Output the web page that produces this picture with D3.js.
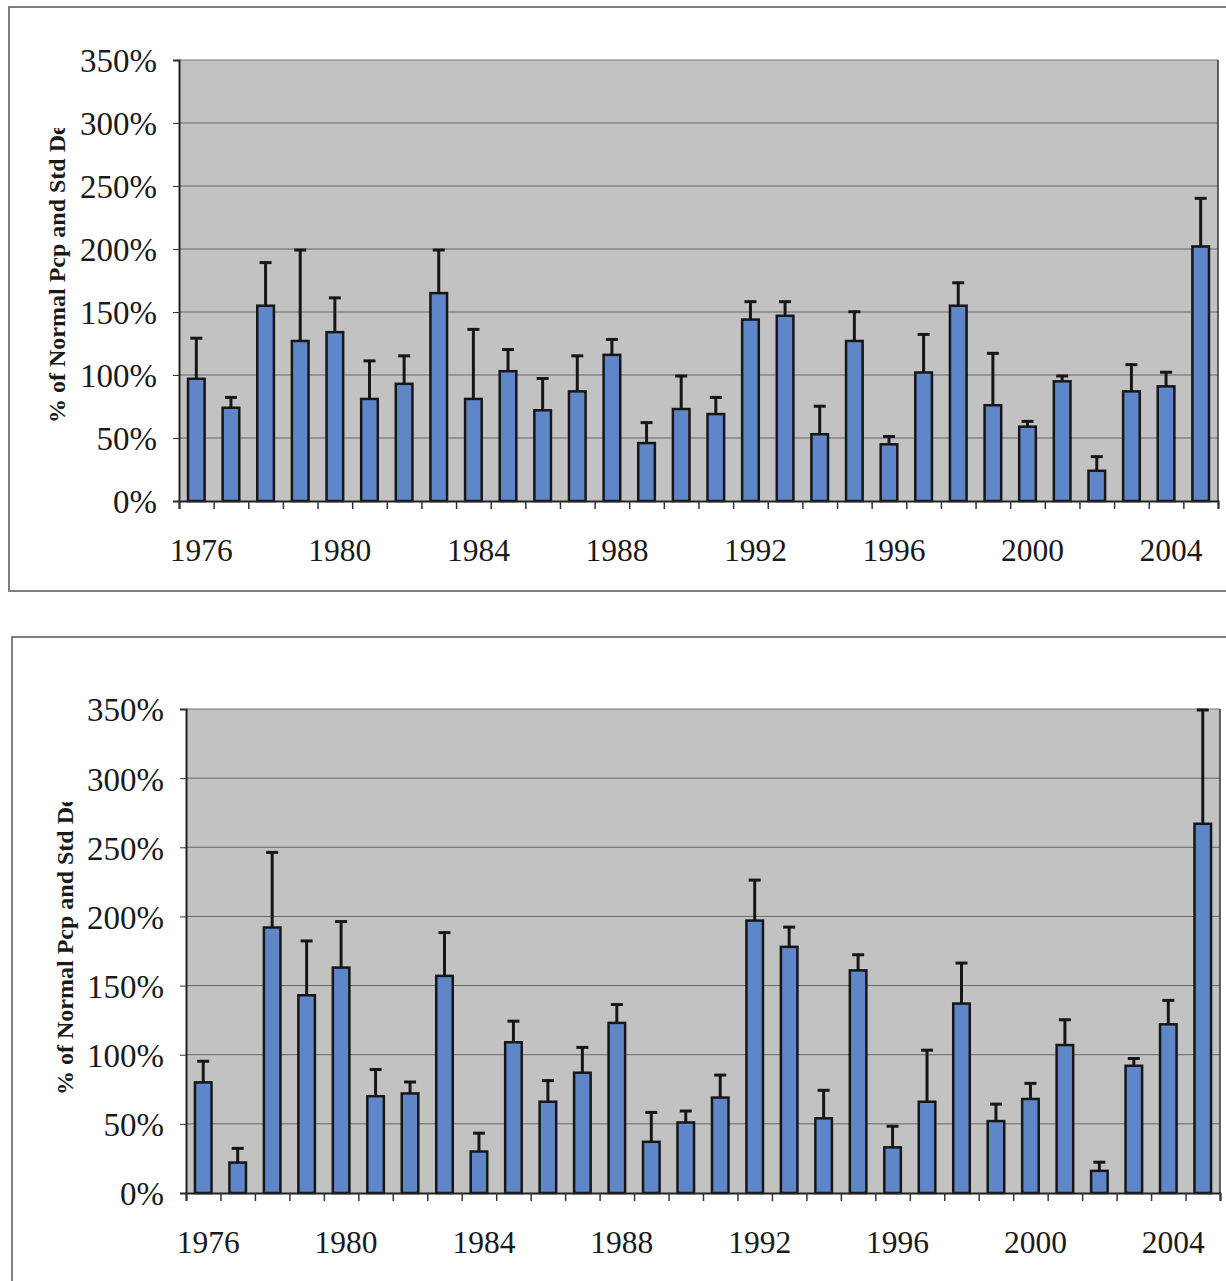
<!DOCTYPE html>
<html>
<head>
<meta charset="utf-8">
<script src="https://cdn.jsdelivr.net/npm/d3@7"></script>
<style>
  body { margin: 0; background: #fff; }
  svg { display: block; }
  text { font-family: "Liberation Serif", "DejaVu Serif", serif; fill: #1a1a1a; }
</style>
</head>
<body>
<svg id="chart" width="1226" height="1281"></svg>
<script>
// categories
const years = [1976, 1977, 1978, 1979, 1980, 1981, 1982, 1983, 1984, 1985,
  1986, 1987, 1988, 1989, 1990, 1991, 1992, 1993, 1994, 1995,
  1996, 1997, 1998, 1999, 2000, 2001, 2002, 2003, 2004, 2005]
const yearLabels = [1976, 1980, 1984, 1988, 1992, 1996, 2000, 2004]
const yTicks = [0, 50, 100, 150, 200, 250, 300, 350]

// top chart: % of normal precipitation and mean + std dev
const topPct = [97, 74, 155, 127, 134, 81, 93, 165, 81, 103,
  72, 87, 116, 46, 73, 69, 144, 147, 53, 127,
  45, 102, 155, 76, 59, 95, 24, 87, 91, 202]
const topErr = [130, 83, 190, 200, 162, 112, 116, 200, 137, 121,
  98, 116, 129, 63, 100, 83, 159, 159, 76, 151,
  52, 133, 174, 118, 64, 100, 36, 109, 103, 241]

// bottom chart
const botPct = [80, 22, 192, 143, 163, 70, 72, 157, 30, 109,
  66, 87, 123, 37, 51, 69, 197, 178, 54, 161,
  33, 66, 137, 52, 68, 107, 16, 92, 122, 267]
const botErr = [96, 33, 247, 183, 197, 90, 81, 189, 44, 125,
  82, 106, 137, 59, 60, 86, 227, 193, 75, 173,
  49, 104, 167, 65, 80, 126, 23, 98, 140, 350]

const yTitle = '% of Normal Pcp and Std Dev'

const svg = d3.select('#chart')
const defs = svg.append('defs')

function drawPanel (opt, pct, err, id) {
  const g = svg.append('g')

  // outer frame (runs off the right / bottom of the page)
  g.append('path')
    .attr('d', opt.frame)
    .attr('fill', 'none')
    .attr('stroke', '#555')
    .attr('stroke-width', 1.5)

  const x = d3.scaleBand().domain(years).range([opt.left, opt.right]).padding(0)
  const xb = d3.scaleLinear().domain([0, years.length]).range([opt.left, opt.right])
  const y = d3.scaleLinear().domain([0, 350]).range([opt.bottom, opt.top])

  // plot background
  g.append('rect')
    .attr('x', opt.left).attr('y', opt.top)
    .attr('width', opt.right - opt.left).attr('height', opt.bottom - opt.top)
    .attr('fill', '#c2c2c2')

  // gridlines
  g.append('g').selectAll('line')
    .data(yTicks.filter(d => d > 0))
    .enter().append('line')
    .attr('x1', opt.left).attr('x2', opt.right)
    .attr('y1', d => y(d)).attr('y2', d => y(d))
    .attr('stroke', d => d === 350 ? '#777' : '#666')
    .attr('stroke-width', 1)

  // right border of plot area
  g.append('line')
    .attr('x1', opt.right).attr('x2', opt.right)
    .attr('y1', opt.top).attr('y2', opt.bottom)
    .attr('stroke', '#333').attr('stroke-width', 1.5)

  const bw = x.bandwidth() * 0.48
  const cx = d => x(d) + x.bandwidth() / 2

  // bars
  g.append('g').selectAll('rect')
    .data(years)
    .enter().append('rect')
    .attr('x', d => cx(d) - bw / 2)
    .attr('y', (d, i) => y(pct[i]))
    .attr('width', bw)
    .attr('height', (d, i) => y(0) - y(pct[i]))
    .attr('fill', '#5f86c9')
    .attr('stroke', '#161616')
    .attr('stroke-width', 2.5)

  // error bars
  const eb = g.append('g').attr('stroke', '#161616')
  eb.selectAll('line.stem')
    .data(years)
    .enter().append('line')
    .attr('class', 'stem')
    .attr('x1', cx).attr('x2', cx)
    .attr('y1', (d, i) => y(pct[i]))
    .attr('y2', (d, i) => y(err[i]))
    .attr('stroke-width', 3)
  eb.selectAll('line.cap')
    .data(years)
    .enter().append('line')
    .attr('class', 'cap')
    .attr('x1', d => cx(d) - 6)
    .attr('x2', d => cx(d) + 6)
    .attr('y1', (d, i) => y(err[i]) + 1)
    .attr('y2', (d, i) => y(err[i]) + 1)
    .attr('stroke-width', 3)

  // y axis
  const yAxis = g.append('g')
    .attr('transform', `translate(${opt.left},0)`)
    .call(d3.axisLeft(y).tickValues(yTicks).tickFormat(d => d + '%').tickSize(6).tickPadding(16))
  yAxis.select('.domain').attr('stroke', '#222').attr('stroke-width', 2)
  yAxis.selectAll('.tick line').attr('stroke', '#333')
  yAxis.selectAll('text')
    .attr('font-size', 33)
    .attr('dy', '0.36em')
    .style('font-family', '"Liberation Serif", serif')
    .attr('fill', '#1a1a1a')

  // x axis: ticks at category boundaries
  const xAxis = g.append('g')
    .attr('transform', `translate(0,${opt.bottom})`)
    .call(d3.axisBottom(xb).tickValues(d3.range(0, years.length + 1)).tickFormat('').tickSize(8))
  xAxis.select('.domain').attr('stroke', '#222').attr('stroke-width', 2)
  xAxis.selectAll('.tick line').attr('stroke', '#333').attr('stroke-width', 1.5)

  g.append('g').selectAll('text')
    .data(yearLabels)
    .enter().append('text')
    .attr('x', d => cx(d) + 5)
    .attr('y', opt.bottom + 60)
    .attr('text-anchor', 'middle')
    .attr('font-size', 31.5)
    .text(d => d)

  // y title, clipped at the top like the original
  defs.append('clipPath').attr('id', id)
    .append('rect')
    .attr('x', opt.titleX - 25).attr('y', opt.titleClip)
    .attr('width', 50).attr('height', 400)
  g.append('g')
    .attr('clip-path', `url(#${id})`)
    .append('text')
    .attr('transform', `translate(${opt.titleX},${opt.titleBottom}) rotate(-90)`)
    .attr('font-size', 24)
    .attr('font-weight', 'bold')
    .attr('dy', '0.35em')
    .text(yTitle)
}

drawPanel({
  frame: 'M1226,7 L9,7 L9,591 L1226,591',
  left: 179, right: 1218, top: 60, bottom: 501,
  titleX: 57, titleBottom: 423, titleClip: 128
}, topPct, topErr, 'clipTop')

drawPanel({
  frame: 'M1226,637 L12,637 L12,1281',
  left: 186, right: 1220, top: 709, bottom: 1193,
  titleX: 65, titleBottom: 1095, titleClip: 802
}, botPct, botErr, 'clipBot')
</script>
</body>
</html>
